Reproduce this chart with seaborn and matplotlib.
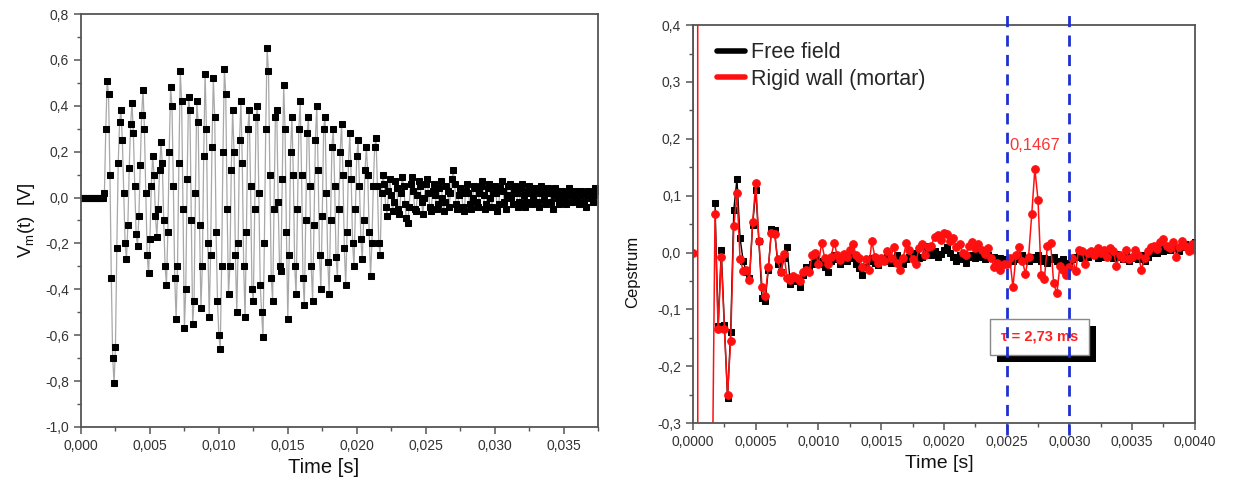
import numpy as np
import pandas as pd
import matplotlib
matplotlib.use("Agg")
import matplotlib.pyplot as plt
import matplotlib.patheffects as pe
import seaborn as sns
from matplotlib.lines import Line2D
from matplotlib.ticker import MultipleLocator, FuncFormatter

# ---------------- data: left panel (measured voltage) ----------------
dt_left = 0.0001  # sample spacing [s]
v_onset = [0.0] * 17 + [
    0.02, 0.30, 0.51, 0.45, 0.10, -0.35, -0.70, -0.81, -0.65, -0.22,
    0.15, 0.33, 0.38, 0.25, 0.02, -0.20, -0.27, -0.12, 0.13, 0.32,
    0.41, 0.28, 0.05, -0.16, -0.21, -0.08, 0.14, 0.36, 0.47, 0.30,
    0.02, -0.25, -0.33, -0.18, 0.05, 0.18, 0.10, -0.08, -0.17, -0.05,
    0.12, 0.24, 0.15]
v_strong = [
    -0.10, -0.30, -0.38, -0.15, 0.20, 0.48, 0.40, 0.05, -0.35, -0.53,
    -0.30, 0.15, 0.55, 0.42, -0.05, -0.57, -0.40, 0.08, 0.44, 0.38,
    -0.10, -0.55, -0.45, 0.02, 0.42, 0.33, -0.12, -0.48, -0.30, 0.18,
    0.54, 0.30, -0.20, -0.52, -0.25, 0.22, 0.52, 0.35, -0.15, -0.45,
    -0.60, -0.66, -0.30, 0.20, 0.56, 0.45, -0.05, -0.42, -0.30, 0.12,
    0.38, 0.20, -0.25, -0.50, -0.20, 0.25, 0.42, 0.15, -0.30, -0.52,
    -0.15, 0.30, 0.38, 0.05, -0.40, -0.45, -0.05, 0.35, 0.40, 0.02,
    -0.38, -0.50, -0.61, -0.20, 0.30, 0.65, 0.55, 0.10, -0.35, -0.45]
v_decay = [
    -0.05, 0.35, 0.38, -0.02, -0.30, -0.32, 0.08, 0.49, 0.30, -0.15,
    -0.53, -0.25, 0.20, 0.35, 0.10, -0.30, -0.42, -0.05, 0.30, 0.42,
    0.10, -0.35, -0.47, -0.10, 0.28, 0.35, 0.05, -0.30, -0.45, -0.12,
    0.25, 0.40, 0.12, -0.25, -0.40, -0.08, 0.30, 0.35, 0.02, -0.28,
    -0.42, -0.10, 0.22, 0.30, 0.05, -0.26, -0.35, -0.05, 0.20, 0.32,
    0.10, -0.22, -0.38, -0.15, 0.15, 0.28, 0.08, -0.20, -0.30, -0.05,
    0.18, 0.25, 0.05, -0.18, -0.27, -0.10, 0.12, 0.22, 0.10, -0.15,
    -0.34, -0.20, 0.05, 0.22, 0.26, 0.05, -0.20, -0.25, 0.02, 0.10]
v_tail = [
    0.06, -0.04, -0.08, 0.03, 0.08, 0.01, -0.06, -0.02, 0.07, 0.04,
    -0.05, -0.07, 0.02, 0.09, 0.05, -0.03, -0.09, -0.11, -0.04, 0.06,
    0.09, 0.03, -0.05, -0.06, 0.01, 0.07, 0.05, -0.02, -0.07, 0.00,
    0.06, 0.08, 0.02, -0.04, -0.06, 0.03, 0.06, 0.01, -0.05, -0.03,
    0.04, 0.07, 0.00, -0.06, -0.02, 0.05, 0.03, -0.04, 0.02, 0.08,
    0.12, 0.06, -0.03, -0.05, 0.01, 0.04, 0.02, -0.04, -0.06, 0.03,
    0.06, 0.02, -0.03, -0.05, 0.00, 0.05, 0.04, -0.02, -0.04, 0.02,
    0.05, 0.07, 0.01, -0.05, -0.03, 0.04, 0.06, 0.00, -0.04, 0.02,
    0.05, 0.02, -0.06, -0.03, 0.04, 0.07, 0.03, -0.02, -0.05, 0.01,
    0.05, 0.06, 0.00, -0.03, 0.03, 0.05, 0.02, -0.04, -0.02, 0.04,
    0.06, 0.01, -0.04, -0.02, 0.03, 0.05, 0.02, -0.03, 0.00, 0.04,
    0.03, -0.02, -0.04, 0.02, 0.05, 0.03, -0.01, -0.03, 0.02, 0.04,
    0.02, -0.02, -0.05, 0.01, 0.04, 0.03, 0.00, -0.03, 0.01, 0.03,
    0.02, -0.01, -0.03, 0.02, 0.04, 0.01, -0.02, 0.00, 0.03, 0.02,
    -0.01, -0.03, 0.01, 0.03, 0.02, -0.02, -0.04, 0.01, 0.03, 0.02,
    0.00, -0.02, 0.01, 0.04, 0.03]

# ---------------- data: right panel (cepstrum) ----------------
dt_right = 0.000025  # quefrency spacing [s]
nan = float("nan")
free_early = [nan] * 7 + [
    0.088, -0.130, 0.004, -0.128, -0.255, -0.140, 0.075, 0.130, 0.025, -0.015,
    -0.035, -0.045, 0.048, 0.110, 0.020, -0.080, -0.085, -0.030, 0.042, 0.040,
    -0.020, -0.035, -0.010, 0.010, -0.055, -0.045, -0.050, -0.060, -0.040, -0.025,
    -0.030, -0.020, -0.010, -0.015]
free_mid = [
    -0.020, -0.025, -0.035, -0.015, -0.005, -0.012, -0.020, -0.010, -0.015, -0.008,
    -0.010, -0.020, -0.028, -0.040, -0.025, -0.015, -0.010, -0.018, -0.022, -0.012,
    -0.015, -0.008, -0.018, -0.010, -0.005, -0.015, -0.020, -0.012, -0.008, -0.005,
    0.000, -0.010, -0.008, 0.012, 0.005, -0.005, 0.002, -0.008, -0.002, 0.005,
    0.010, 0.000, -0.008, -0.015, -0.005, -0.012, -0.018, -0.008, -0.005, -0.010,
    -0.003, -0.008, -0.012, -0.005, -0.010, -0.008, -0.015, -0.010, -0.012, -0.015]
free_late = [
    -0.010, -0.015, -0.008, -0.012, -0.005, -0.010, -0.015, -0.008, -0.012, -0.005,
    -0.015, -0.010, -0.018, -0.012, -0.008, -0.015, -0.020, -0.012, -0.018, -0.020,
    -0.012, -0.008, -0.005, -0.010, -0.002, -0.008, 0.000, -0.005, -0.010, -0.003,
    -0.008, 0.000, -0.005, -0.010, -0.002, -0.008, -0.012, -0.005, -0.015, -0.008,
    -0.010, -0.012, -0.005, -0.015, -0.008, 0.000, 0.005, 0.000, 0.008, 0.003,
    0.010, 0.005, 0.012, 0.008, 0.002, 0.010, 0.015, 0.008, 0.012, 0.018]

wall_early = [
    0.0, 20.0, -20.0, -1.2, -0.8, -0.6, -0.5,
    0.067, -0.135, -0.008, -0.134, -0.250, -0.155, 0.046, 0.104, -0.011, -0.032,
    -0.030, -0.048, 0.053, 0.122, 0.021, -0.061, -0.076, -0.026, 0.035, 0.033,
    -0.012, -0.035, -0.003, -0.045, -0.048, -0.042, -0.045, -0.050, -0.035, -0.030,
    -0.035, -0.005, 0.000, -0.020]
wall_mid = [
    0.017, -0.010, -0.020, -0.008, 0.017, -0.005, -0.014, -0.002, -0.008, 0.004,
    0.015, -0.005, -0.010, -0.025, -0.012, -0.030, 0.020, -0.008, -0.018, -0.010,
    -0.015, 0.002, -0.010, 0.010, -0.018, -0.030, -0.010, 0.017, 0.005, -0.012,
    -0.020, 0.008, 0.015, -0.005, 0.010, 0.012, 0.028, 0.030, 0.022, 0.035,
    0.033, 0.020, 0.025, 0.010, 0.015, 0.000, -0.005, 0.012, 0.018, 0.008,
    0.015, 0.005, -0.002, 0.008, -0.010, -0.025, -0.018, -0.030, -0.020, -0.020]
wall_late = [
    -0.010, -0.061, -0.005, 0.009, -0.015, -0.037, -0.007, 0.067, 0.1467, 0.093,
    -0.039, -0.047, 0.012, 0.017, -0.054, -0.072, -0.023, -0.030, -0.040, -0.025,
    -0.010, -0.033, 0.005, 0.002, -0.020, 0.000, 0.003, -0.005, 0.008, 0.000,
    0.004, -0.008, 0.008, 0.002, -0.023, -0.005, -0.010, 0.005, -0.012, -0.008,
    0.005, -0.005, -0.030, -0.010, 0.002, 0.010, 0.012, 0.006, 0.018, 0.023,
    0.012, 0.008, 0.018, -0.008, 0.010, 0.020, 0.012, 0.002, 0.015, 0.005]

window_edges = [0.0025, 0.0030]
peak_time, peak_value = 0.002725, 0.1467
peak_label = "0,1467"
delay_label = "\u03c4 = 2,73 ms"

# ---------------- assemble ----------------
v_left = np.array(v_onset + v_strong + v_decay + v_tail)
df_left = pd.DataFrame({"t": np.arange(len(v_left)) * dt_left, "v": v_left})
free = np.array(free_early + free_mid + free_late)
wall = np.array(wall_early + wall_mid + wall_late)
q = np.arange(len(wall)) * dt_right
df_free = pd.DataFrame({"t": q, "c": free}).dropna()
df_wall = pd.DataFrame({"t": q, "c": wall})

sns.set_theme(style="ticks")
plt.rcParams["font.family"] = ["Liberation Sans", "DejaVu Sans"]
plt.rcParams["mathtext.fontset"] = "custom"
plt.rcParams["mathtext.rm"] = "Liberation Sans"
plt.rcParams["mathtext.it"] = "Liberation Sans:italic"

fig = plt.figure(figsize=(12.42, 4.83), dpi=100)
axL = fig.add_axes([0.0652, 0.116, 0.4163, 0.855])
axR = fig.add_axes([0.558, 0.124, 0.404, 0.824])

spine_c = "#555555"
tick_c = "#333333"


def style(ax):
    for s in ax.spines.values():
        s.set_color(spine_c)
        s.set_linewidth(1.3)
    ax.tick_params(which="major", direction="out", length=5, width=1.1,
                   color=spine_c, labelcolor=tick_c, labelsize=10,
                   top=False, right=False)
    ax.tick_params(which="minor", direction="out", length=3, width=1.0,
                   color=spine_c, top=False, right=False)
    ax.grid(False)


# left panel
sns.lineplot(data=df_left, x="t", y="v", ax=axL, estimator=None, sort=False,
             color="#a8a8a8", linewidth=0.9, marker="s", markersize=4.2,
             markerfacecolor="black", markeredgecolor="black", legend=False)
axL.set_xlim(0, 0.0375)
axL.set_ylim(-1.0, 0.8)
axL.xaxis.set_major_locator(MultipleLocator(0.005))
axL.xaxis.set_minor_locator(MultipleLocator(0.0025))
axL.yaxis.set_major_locator(MultipleLocator(0.2))
axL.yaxis.set_minor_locator(MultipleLocator(0.1))
axL.xaxis.set_major_formatter(FuncFormatter(lambda v, p: f"{v:.3f}".replace(".", ",")))
axL.yaxis.set_major_formatter(FuncFormatter(lambda v, p: f"{v:.1f}".replace(".", ",").replace("-0,0", "0,0")))
style(axL)
axL.set_xlabel("Time [s]", fontsize=14.5, color="#111111")
axL.xaxis.set_label_coords(0.47, -0.075)
axL.set_ylabel(r"V$_{\mathrm{m}}$(t)  [V]", fontsize=13.5, color="#111111", labelpad=6)

# right panel
sns.lineplot(data=df_free, x="t", y="c", ax=axR, estimator=None, sort=False,
             color="black", linewidth=1.0, marker="s", markersize=4.5,
             markeredgecolor="black", legend=False)
sns.lineplot(data=df_wall, x="t", y="c", ax=axR, estimator=None, sort=False,
             color="#ff1010", linewidth=1.1, marker="o", markersize=5.5,
             markeredgecolor="#ff1010", legend=False)
axR.set_xlim(0, 0.004)
axR.set_ylim(-0.3, 0.4)
axR.xaxis.set_major_locator(MultipleLocator(0.0005))
axR.xaxis.set_minor_locator(MultipleLocator(0.00025))
axR.yaxis.set_major_locator(MultipleLocator(0.1))
axR.yaxis.set_minor_locator(MultipleLocator(0.05))
axR.xaxis.set_major_formatter(FuncFormatter(lambda v, p: f"{v:.4f}".replace(".", ",")))
axR.yaxis.set_major_formatter(FuncFormatter(lambda v, p: f"{v:.1f}".replace(".", ",").replace("-0,0", "0,0")))
style(axR)
axR.set_xlabel("Time [s]", fontsize=14, color="#111111")
axR.xaxis.set_label_coords(0.49, -0.08)
axR.set_ylabel("Cepstrum", fontsize=12, color="#111111")
axR.yaxis.set_label_coords(-0.105, 0.38)

for xe in window_edges:
    axR.axvline(xe, ymin=-0.03, ymax=1.038, clip_on=False, color="#2030d0",
                linewidth=2.0, dashes=(4, 3), zorder=6)

axR.text(peak_time, peak_value + 0.028, peak_label, color="#ff3333",
         fontsize=12, ha="center", va="bottom")

box_x, box_y = 0.002765, -0.148
box_txt = axR.text(box_x, box_y, delay_label, fontsize=10.5, fontweight="bold",
                   color="#ff2020", ha="center", va="center",
                   bbox=dict(boxstyle="square,pad=0.75", facecolor="white",
                             edgecolor="#888888", linewidth=1.0), zorder=5)
box_txt.get_bbox_patch().set_path_effects(
    [pe.SimplePatchShadow(offset=(5, -5), shadow_rgbFace="black", alpha=1.0), pe.Normal()])

handles = [Line2D([], [], color="black", linewidth=4, label="Free field"),
           Line2D([], [], color="#ff1010", linewidth=4, label="Rigid wall (mortar)")]
axR.legend(handles=handles, loc="upper left", frameon=False, fontsize=15.5,
           handlelength=1.3, handletextpad=0.25, labelspacing=0.25,
           borderaxespad=0.3, bbox_to_anchor=(0.018, 0.995))

fig.savefig("out.png", dpi=100)
